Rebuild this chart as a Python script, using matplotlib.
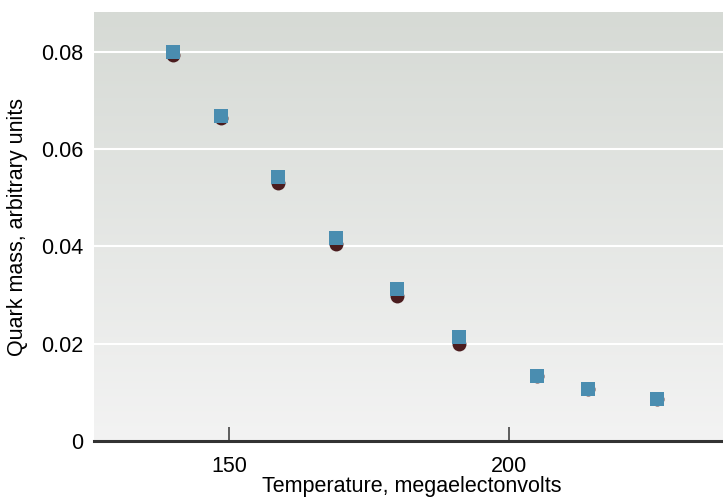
import numpy as np
import matplotlib.pyplot as plt

temp = [140.0, 148.6, 158.8, 169.1, 180.0, 191.1, 205.0, 214.1, 226.4]
mass_circ = [0.0794, 0.0664, 0.0531, 0.0405, 0.0298, 0.0199, 0.0134, 0.0107, 0.0086]
mass_sq = [0.0800, 0.0668, 0.0543, 0.0417, 0.0313, 0.0214, 0.0134, 0.0107, 0.0086]
xticks = [150, 200]
yticks = [0, 0.02, 0.04, 0.06, 0.08]
ylabels = ['0', '0.02', '0.04', '0.06', '0.08']

plt.rcParams['font.family'] = ['Liberation Sans', 'DejaVu Sans']
plt.rcParams['font.size'] = 15

fig = plt.figure(figsize=(7.23, 4.98), dpi=100)
ax = fig.add_axes([94/723, 1-441/498, 629/723, 429/498])

xmin, xmax = 125.9, 238.2
ymin, ymax = 0, 0.0882

# gradient background
top = np.array([214, 218, 213]) / 255
bot = np.array([243, 243, 243]) / 255
t = np.linspace(0, 1, 256)[:, None]
grad = top[None, :] * (1 - t) + bot[None, :] * t
ax.imshow(grad[:, None, :], extent=[xmin, xmax, ymin, ymax], aspect='auto', zorder=0)

for yv in yticks[1:]:
    ax.axhline(yv, color='white', lw=1.5, zorder=1)

ax.scatter(temp, mass_circ, s=100, marker='o', color='#4a1c1e', zorder=3, linewidths=0)
ax.scatter(temp, mass_sq, s=88, marker='s', color='#4a8db0', zorder=4, linewidths=0)

ax.set_xlim(xmin, xmax)
ax.set_ylim(ymin, ymax)
for s in ['top', 'right', 'left']:
    ax.spines[s].set_visible(False)
ax.spines['bottom'].set_linewidth(2.2)
ax.spines['bottom'].set_color('#333333')

ax.set_xticks(xticks)
ax.set_xticklabels([str(v) for v in xticks])
ax.set_yticks(yticks)
ax.set_yticklabels(ylabels)
ax.tick_params(axis='x', direction='in', length=10, width=1.2, color='#444444', pad=11, labelsize=15.5)
ax.tick_params(axis='y', length=0, pad=8, labelsize=15.5)

ax.set_xlabel('Temperature, megaelectonvolts', fontsize=15.5)
ax.set_ylabel('Quark mass, arbitrary units', fontsize=15.5)
ax.xaxis.set_label_coords((412-94)/629, (441-476)/429)
ax.yaxis.set_label_coords((28-94)/629, (441-227)/429)

fig.savefig('out.png', dpi=100)
